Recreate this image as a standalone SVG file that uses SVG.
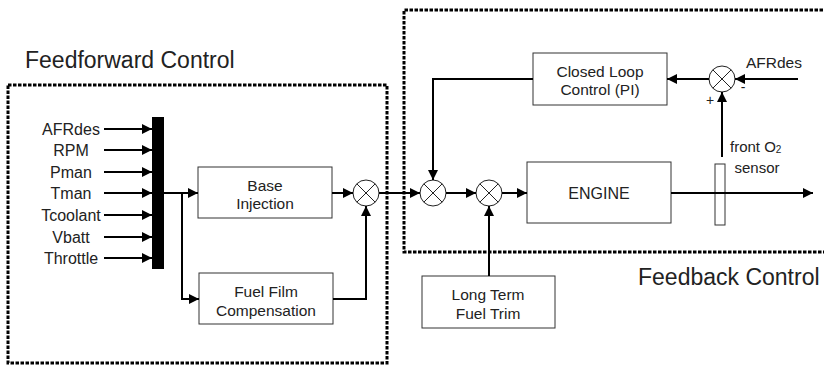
<svg xmlns="http://www.w3.org/2000/svg" width="824" height="365" viewBox="0 0 824 365">
<style>
.t{font-family:"Liberation Sans",Arial,sans-serif;fill:#222;}
.in{font-size:16px;text-anchor:middle;}
.bx{font-size:15.5px;text-anchor:middle;}
.big{font-size:23px;}
.box{fill:#fff;stroke:#333;stroke-width:1;}
.sum{fill:#fff;stroke:#222;stroke-width:1;}
.ln{fill:none;stroke:#000;stroke-width:2;}
.dash{fill:none;stroke:#000;stroke-width:3;stroke-dasharray:3.5 1.5;}
</style>
<defs>
<marker id="ah" viewBox="0 0 10 10" refX="10" refY="5" markerWidth="5.5" markerHeight="5" orient="auto" markerUnits="strokeWidth">
<path d="M0,0 L10,5 L0,10 z" fill="#000"/>
</marker>
</defs>
<g id="regions">
<rect class="dash" x="8" y="85" width="379" height="278"/>
<path class="dash" d="M828,10 H404 V252 H828"/>
<text class="t big" x="25" y="68">Feedforward Control</text>
<text class="t big" x="638" y="285">Feedback Control</text>
</g>
<g id="inputs">
<text class="t in" x="71" y="134.5">AFRdes</text>
<text class="t in" x="71" y="155.5">RPM</text>
<text class="t in" x="71" y="177.5">Pman</text>
<text class="t in" x="71" y="198.5">Tman</text>
<text class="t in" x="71" y="220.5">Tcoolant</text>
<text class="t in" x="71" y="242.5">Vbatt</text>
<text class="t in" x="71" y="263.5">Throttle</text>
</g>
<g id="mux"><rect x="152" y="117" width="12" height="152" fill="#000"/></g>
<g id="base-injection"><rect class="box" x="198" y="167" width="134" height="51"/>
<text class="t bx" x="265" y="190.5">Base</text><text class="t bx" x="265" y="208.5">Injection</text></g>
<g id="fuel-film"><rect class="box" x="199" y="273" width="134" height="51"/>
<text class="t bx" x="266" y="296.5">Fuel Film</text><text class="t bx" x="266" y="315.5">Compensation</text></g>
<g id="sum-ff"><circle class="sum" cx="366" cy="193" r="13"/><path d="M356.8,183.8 L375.2,202.2 M375.2,183.8 L356.8,202.2" stroke="#222" stroke-width="1"/></g>
<g id="sum-fb"><circle class="sum" cx="433" cy="193" r="13"/><path d="M423.8,183.8 L442.2,202.2 M442.2,183.8 L423.8,202.2" stroke="#222" stroke-width="1"/></g>
<g id="sum-ltft"><circle class="sum" cx="489" cy="193" r="13"/><path d="M479.8,183.8 L498.2,202.2 M498.2,183.8 L479.8,202.2" stroke="#222" stroke-width="1"/></g>
<g id="sum-afr"><circle class="sum" cx="722" cy="79" r="13"/><path d="M712.8,69.8 L731.2,88.2 M731.2,69.8 L712.8,88.2" stroke="#222" stroke-width="1"/>
<text class="t" font-size="14" x="743" y="92" text-anchor="middle">-</text>
<text class="t" font-size="14" x="710" y="105" text-anchor="middle">+</text></g>
<g id="closed-loop"><rect class="box" x="533" y="53" width="134" height="52"/>
<text class="t bx" x="600" y="76.5">Closed Loop</text><text class="t bx" x="600" y="94.5">Control (PI)</text></g>
<g id="engine"><rect class="box" x="527" y="162" width="144" height="61"/>
<text class="t" font-size="16" x="599" y="199" text-anchor="middle">ENGINE</text></g>
<g id="ltft"><rect class="box" x="422" y="276" width="133" height="52"/>
<text class="t bx" x="488" y="299.5">Long Term</text><text class="t bx" x="488" y="318.5">Fuel Trim</text></g>
<g id="o2-sensor"><rect class="box" x="715" y="164" width="10" height="61"/>
<text class="t" font-size="15" x="730" y="152">front O<tspan font-size="10" dy="1">2</tspan></text>
<text class="t" font-size="15" x="757" y="172.5" text-anchor="middle">sensor</text></g>
<g id="afrdes-fb"><text class="t" font-size="15.5" x="774" y="67.5" text-anchor="middle">AFRdes</text></g>
<g id="connectors">
<line class="ln" x1="104" y1="129" x2="152" y2="129" marker-end="url(#ah)"/>
<line class="ln" x1="104" y1="150" x2="152" y2="150" marker-end="url(#ah)"/>
<line class="ln" x1="104" y1="172" x2="152" y2="172" marker-end="url(#ah)"/>
<line class="ln" x1="104" y1="193" x2="152" y2="193" marker-end="url(#ah)"/>
<line class="ln" x1="104" y1="215" x2="152" y2="215" marker-end="url(#ah)"/>
<line class="ln" x1="104" y1="237" x2="152" y2="237" marker-end="url(#ah)"/>
<line class="ln" x1="104" y1="258" x2="152" y2="258" marker-end="url(#ah)"/>
<line class="ln" x1="164" y1="193" x2="198" y2="193" marker-end="url(#ah)"/>
<polyline class="ln" points="182,193 182,299 199,299" marker-end="url(#ah)"/>
<line class="ln" x1="332" y1="193" x2="353" y2="193" marker-end="url(#ah)"/>
<polyline class="ln" points="333,299 366,299 366,206" marker-end="url(#ah)"/>
<line class="ln" x1="379" y1="193" x2="420" y2="193" marker-end="url(#ah)"/>
<line class="ln" x1="446" y1="193" x2="476" y2="193" marker-end="url(#ah)"/>
<line class="ln" x1="502" y1="193" x2="527" y2="193" marker-end="url(#ah)"/>
<line class="ln" x1="489" y1="276" x2="489" y2="206" marker-end="url(#ah)"/>
<line class="ln" x1="671" y1="193" x2="813" y2="193" marker-end="url(#ah)"/>
<line class="ln" x1="722" y1="157" x2="722" y2="92" marker-end="url(#ah)"/>
<line class="ln" x1="798" y1="79" x2="735" y2="79" marker-end="url(#ah)"/>
<line class="ln" x1="709" y1="79" x2="667" y2="79" marker-end="url(#ah)"/>
<polyline class="ln" points="533,79 433,79 433,180" marker-end="url(#ah)"/>
</g>
</svg>
